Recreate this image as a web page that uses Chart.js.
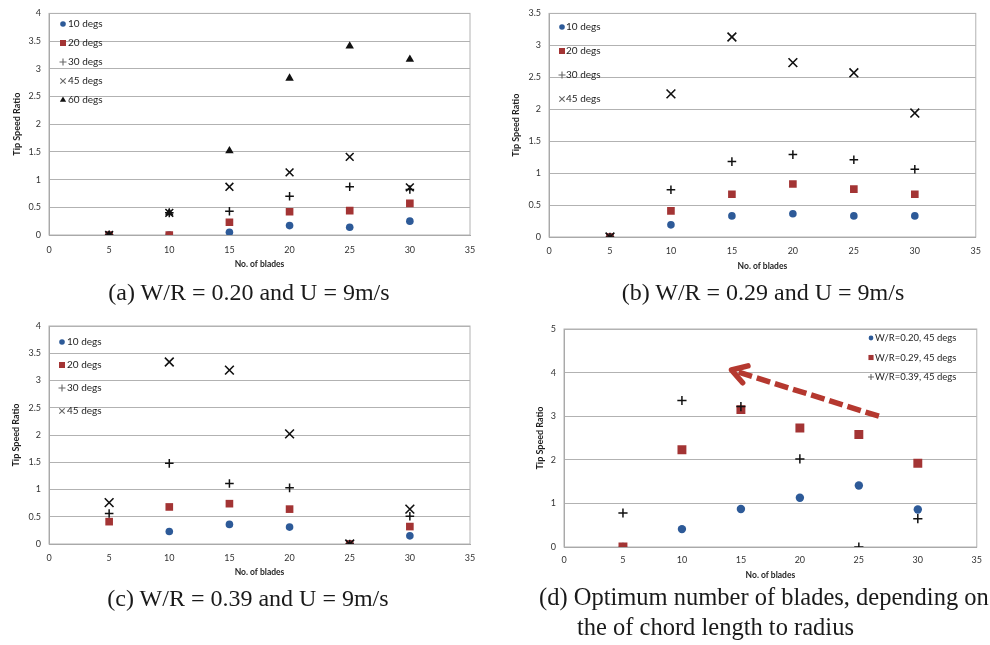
<!DOCTYPE html>
<html><head><meta charset="utf-8">
<script src="https://cdn.jsdelivr.net/npm/chart.js@4.4.1/dist/chart.umd.min.js"></script>
<style>
html,body{margin:0;padding:0;background:#fff;}
body{width:990px;height:645px;position:relative;overflow:hidden;}
.pane{position:absolute;width:490px;height:280px;}
.pane canvas{display:block;}
.cap{position:absolute;font-family:"Liberation Serif","Times New Roman",serif;font-size:24px;color:#1a1a1a;line-height:30px;white-space:nowrap;}
.ctr{width:400px;text-align:center;}
</style></head><body>
<div class="pane" style="left:0;top:0"><canvas id="cA" width="490" height="280"></canvas></div>
<div class="pane" style="left:500px;top:0"><canvas id="cB" width="490" height="280"></canvas></div>
<div class="pane" style="left:0;top:310px"><canvas id="cC" width="490" height="280"></canvas></div>
<div class="pane" style="left:500px;top:310px"><canvas id="cD" width="490" height="280"></canvas></div>
<div class="cap ctr" style="left:49px;top:277px">(a) W/R = 0.20 and U = 9m/s</div>
<div class="cap ctr" style="left:563px;top:277px">(b) W/R = 0.29 and U = 9m/s</div>
<div class="cap ctr" style="left:48px;top:583px">(c) W/R = 0.39 and U = 9m/s</div>
<div class="cap" style="left:539px;top:582px;font-size:24.5px">(d) Optimum number of blades, depending on<br><span style="padding-left:38px">the of chord length to radius</span></div>
<script>
// ---------- DATA ----------
const blades = [5, 10, 15, 20, 25, 30];
const xTicks = [0, 5, 10, 15, 20, 25, 30, 35];

// (a) W/R = 0.20
const a_10degs = [0, 0, 0.05, 0.17, 0.14, 0.25];
const a_20degs = [0, 0, 0.23, 0.42, 0.44, 0.57];
const a_30degs = [0, 0.40, 0.43, 0.70, 0.87, 0.82];
const a_45degs = [0, 0.40, 0.87, 1.13, 1.41, 0.86];
const a_60degs = [0, 0.40, 1.52, 2.83, 3.41, 3.17];

// (b) W/R = 0.29
const b_10degs = [0, 0.19, 0.33, 0.365, 0.33, 0.33];
const b_20degs = [0, 0.41, 0.67, 0.83, 0.75, 0.67];
const b_30degs = [0, 0.74, 1.18, 1.29, 1.21, 1.06];
const b_45degs = [0, 2.24, 3.13, 2.73, 2.57, 1.94];

// (c) W/R = 0.39
const c_10degs = [null, 0.23, 0.36, 0.31, 0, 0.15];
const c_20degs = [0.41, 0.68, 0.74, 0.64, 0, 0.32];
const c_30degs = [0.56, 1.48, 1.11, 1.03, 0, 0.51];
const c_45degs = [0.76, 3.34, 3.19, 2.02, 0, 0.64];

// (d) optimum, 45 degs
const d_wr020 = [0, 0.41, 0.87, 1.13, 1.41, 0.86];
const d_wr029 = [0, 2.23, 3.15, 2.73, 2.58, 1.92];
const d_wr039 = [0.78, 3.36, 3.22, 2.02, 0, 0.65];
const d_arrowFrom = [26.7, 3.0];
const d_arrowTo = [14.2, 4.06];

// ---------- STYLE ----------
const BLUE = '#2d5a98', RED = '#a33434', BLACK = '#111111';
const GRID = '#b2b2b2', AXIS = '#a0a0a0';
const STYLES = {
  circle:   {ps:'circle',   color:BLUE,  r:3.8, bw:0,   lr:2.8, lcolor:BLUE},
  rect:     {ps:'rect',     color:RED,   r:5.4, bw:0,   lr:3.0, lcolor:RED},
  cross:    {ps:'cross',    color:BLACK, r:4.3, bw:1.5, lr:3.5, lcolor:'#666'},
  crossRot: {ps:'crossRot', color:BLACK, r:5.5, bw:1.6, lr:3.6, lcolor:'#666'},
  triangle: {ps:'triangle', color:BLACK, r:4.9, bw:0,   lr:3.6, lcolor:BLACK}
};

function pts(arr){ return blades.map((x,i)=>({x:x, y:arr[i]})).filter(p=>p.y!==null); }

function drawMarker(ctx, style, x, y, r, color){
  ctx.save();
  ctx.fillStyle = color; ctx.strokeStyle = color; ctx.lineWidth = 1.1;
  ctx.beginPath();
  if (style==='circle'){ ctx.arc(x,y,r,0,Math.PI*2); ctx.fill(); }
  else if (style==='rect'){ ctx.fillRect(x-r,y-r,2*r,2*r); }
  else if (style==='cross'){ ctx.moveTo(x-r,y); ctx.lineTo(x+r,y); ctx.moveTo(x,y-r); ctx.lineTo(x,y+r); ctx.stroke(); }
  else if (style==='crossRot'){ const d=r*0.75; ctx.moveTo(x-d,y-d); ctx.lineTo(x+d,y+d); ctx.moveTo(x+d,y-d); ctx.lineTo(x-d,y+d); ctx.stroke(); }
  else if (style==='triangle'){ ctx.moveTo(x,y-r); ctx.lineTo(x+r*0.87,y+r*0.5); ctx.lineTo(x-r*0.87,y+r*0.5); ctx.closePath(); ctx.fill(); }
  ctx.restore();
}

const framePlugin = {
  id:'frame',
  beforeDatasetsDraw(chart){
    const a = chart.chartArea, ctx = chart.ctx;
    ctx.save(); ctx.strokeStyle = GRID; ctx.lineWidth = 1;
    ctx.strokeRect(a.left, a.top, a.right-a.left, a.bottom-a.top);
    ctx.restore();
  }
};

const legendPlugin = {
  id:'insideLegend',
  afterDatasetsDraw(chart, args, o){
    const ctx = chart.ctx;
    chart.data.datasets.forEach((ds,i)=>{
      const st = STYLES[ds.styleKey];
      const y = o.y0 + i*o.dy;
      drawMarker(ctx, st.ps, o.mx, y, (o.scale||1)*st.lr, st.lcolor);
      ctx.save();
      ctx.font = o.font; ctx.fillStyle = '#1e1e1e';
      ctx.textBaseline = 'middle'; ctx.textAlign = 'left';
      ctx.fillText(ds.label, o.tx, y);
      ctx.restore();
    });
  }
};

const arrowPlugin = {
  id:'arrow',
  afterDatasetsDraw(chart, args, o){
    if (!o || !o.from) return;
    const xs = chart.scales.x, ys = chart.scales.y, ctx = chart.ctx;
    const tx = xs.getPixelForValue(o.from[0]), ty = ys.getPixelForValue(o.from[1]);
    const hx = xs.getPixelForValue(o.to[0]), hy = ys.getPixelForValue(o.to[1]);
    const ang = Math.atan2(hy-ty, hx-tx);
    ctx.save();
    ctx.strokeStyle = '#b5382f'; ctx.lineWidth = 5.5; ctx.lineCap = 'butt';
    ctx.setLineDash([14,5]);
    ctx.beginPath(); ctx.moveTo(tx,ty); ctx.lineTo(hx - Math.cos(ang)*4, hy - Math.sin(ang)*4); ctx.stroke();
    ctx.setLineDash([]); ctx.lineCap = 'round'; ctx.lineJoin = 'round';
    const L = 17, spread = 0.55;
    ctx.beginPath();
    ctx.moveTo(hx - Math.cos(ang-spread)*L, hy - Math.sin(ang-spread)*L);
    ctx.lineTo(hx, hy);
    ctx.lineTo(hx - Math.cos(ang+spread)*L, hy - Math.sin(ang+spread)*L);
    ctx.stroke();
    ctx.restore();
  }
};

function makeChart(id, series, p){
  const n = series.length;
  const datasets = series.map((s,i)=>{
    const st = STYLES[s[2]];
    const r = (s[3] && s[3].r) || st.r;
    return {
      label: s[0], data: pts(s[1]), styleKey: s[2], order: n - i,
      pointStyle: st.ps, pointRadius: r, pointHoverRadius: r,
      pointBackgroundColor: st.color, pointBorderColor: st.color,
      pointBorderWidth: st.bw, showLine: false
    };
  });
  const tickFont = {family:'Lato', size:9};
  const titleFont = {family:'Lato', size:8.5, weight:'bold'};
  return new Chart(document.getElementById(id), {
    type:'scatter',
    data:{datasets},
    plugins:[framePlugin, legendPlugin, arrowPlugin],
    options:{
      responsive:false, animation:false, devicePixelRatio:1,
      layout:{padding:{left:0, top:p.top, right:p.right, bottom:0}},
      plugins:{
        legend:{display:false}, tooltip:{enabled:false},
        insideLegend:p.legend,
        arrow:p.arrow || {}
      },
      scales:{
        x:{type:'linear', min:0, max:35,
           afterBuildTicks: s => { s.ticks = xTicks.map(v=>({value:v})); },
           ticks:{padding:p.xtp, font:tickFont, color:'#333', maxRotation:0},
           grid:{display:false, drawTicks:false},
           border:{display:true, color:AXIS},
           title:{display:true, text:'No. of blades', font:titleFont, color:'#1e1e1e', padding:{top:0, bottom:p.xtitle}},
           afterFit: s => { s.height = p.xh; }
        },
        y:{type:'linear', min:0, max:p.ymax,
           ticks:{stepSize:p.ystep, padding:8, font:tickFont, color:'#333', callback: v => String(v)},
           grid:{color:GRID, drawTicks:false, lineWidth:1},
           border:{display:true, color:AXIS},
           title:{display:true, text:'Tip Speed Ratio', font:{family:'Lato', size:9, weight:'bold'}, color:'#1e1e1e', padding:{top:p.ytitle, bottom:0}},
           afterFit: s => { s.width = p.yw; }
        }
      }
    }
  });
}

makeChart('cA', [
  ['10 degs', a_10degs, 'circle'],
  ['20 degs', a_20degs, 'rect'],
  ['30 degs', a_30degs, 'cross'],
  ['45 degs', a_45degs, 'crossRot'],
  ['60 degs', a_60degs, 'triangle']
], {top:11, right:20, yw:49, xh:45, ymax:4, ystep:0.5, xtp:10, xtitle:11, ytitle:12,
    legend:{mx:63, tx:68, y0:24, dy:19, font:'10px Lato'}});

makeChart('cB', [
  ['10 degs', b_10degs, 'circle'],
  ['20 degs', b_20degs, 'rect'],
  ['30 degs', b_30degs, 'cross'],
  ['45 degs', b_45degs, 'crossRot', {r:6.2}]
], {top:11, right:8, yw:49, xh:43, ymax:3.5, ystep:0.5, xtp:9, xtitle:9, ytitle:11,
    legend:{mx:62, tx:66, y0:27, dy:24, font:'10px Lato'}});

makeChart('cC', [
  ['10 degs', c_10degs, 'circle'],
  ['20 degs', c_20degs, 'rect'],
  ['30 degs', c_30degs, 'cross'],
  ['45 degs', c_45degs, 'crossRot', {r:6.2}]
], {top:16, right:20, yw:49, xh:46, ymax:4, ystep:0.5, xtp:9, xtitle:13, ytitle:11,
    legend:{mx:62, tx:67, y0:32, dy:23, font:'10px Lato'}});

makeChart('cD', [
  ['W/R=0.20, 45 degs', d_wr020, 'circle', {r:4.2}],
  ['W/R=0.29, 45 degs', d_wr029, 'rect', {r:6.3}],
  ['W/R=0.39, 45 degs', d_wr039, 'cross', {r:4.6}]
], {top:19, right:7, yw:64, xh:43, ymax:5, ystep:1, xtp:8, xtitle:10, ytitle:35,
    legend:{mx:371, tx:375, y0:28, dy:19.5, font:'9.5px Lato', scale:0.85},
    arrow:{from:d_arrowFrom, to:d_arrowTo}});
</script>
</body></html>
